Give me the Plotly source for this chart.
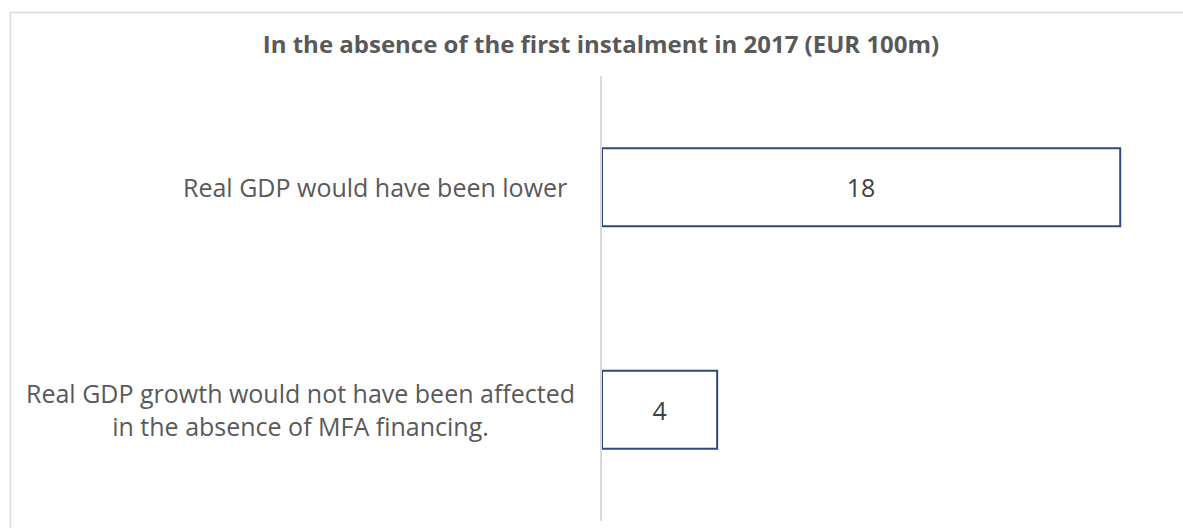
import plotly.graph_objects as go

# Chart data
categories = ["Real GDP would have been lower",
              "Real GDP growth would not have been affected<br>in the absence of MFA financing."]
values = [18, 4]
title_text = "In the absence of the first instalment in 2017 (EUR 100m)"

W, H = 1183, 528
plot_left, plot_right = 602, 1149
plot_top, plot_bottom = 76, 521
pw = plot_right - plot_left
ph = plot_bottom - plot_top

label_color = "#595959"
bar_line = "#2F4A7A"
font_family = "Open Sans, Arial, sans-serif"

fig = go.Figure(go.Bar(
    x=values,
    y=categories,
    orientation="h",
    width=0.35,
    marker=dict(color="white", line=dict(color=bar_line, width=2)),
    text=[str(v) for v in values],
    textposition="inside",
    insidetextanchor="middle",
    textangle=0,
    textfont=dict(family=font_family, size=25, color="#404040"),
    hoverinfo="skip",
))

# category labels to the left of the axis, centred line-by-line
label_shift = [-33, -25]
annotations = []
for cat, sh in zip(categories, label_shift):
    annotations.append(dict(
        x=0, xref="paper", y=cat, yref="y",
        xanchor="right", yanchor="middle", xshift=sh,
        text=cat, showarrow=False, align="center",
        font=dict(family=font_family, size=25, color=label_color),
    ))

# light frame around the chart area
def px_to_paper_x(px):
    return (px - plot_left) / pw

def px_to_paper_y(py):
    return (plot_bottom - py) / ph

shapes = [dict(
    type="rect", xref="paper", yref="paper",
    x0=px_to_paper_x(10.5), x1=px_to_paper_x(W + 5),
    y0=px_to_paper_y(H + 5), y1=px_to_paper_y(12.5),
    line=dict(color="#D9D9D9", width=1.5), fillcolor="rgba(0,0,0,0)", layer="below",
)]

fig.update_layout(
    width=W, height=H,
    margin=dict(l=plot_left, r=W - plot_right, t=plot_top, b=H - plot_bottom, pad=0),
    paper_bgcolor="white", plot_bgcolor="white",
    showlegend=False,
    title=dict(text="<b>" + title_text + "</b>", x=601 / W, xanchor="center",
               y=1 - 45 / H, yanchor="middle",
               font=dict(family=font_family, size=24, color=label_color)),
    xaxis=dict(range=[0, 19], visible=False, showgrid=False, zeroline=False, fixedrange=True),
    yaxis=dict(autorange="reversed", showticklabels=False, showgrid=False, zeroline=False,
               showline=True, linecolor="#D9D9D9", linewidth=1.5, ticks="", fixedrange=True),
    annotations=annotations,
    shapes=shapes,
    bargap=0.65,
)

fig.write_html("out.html")
